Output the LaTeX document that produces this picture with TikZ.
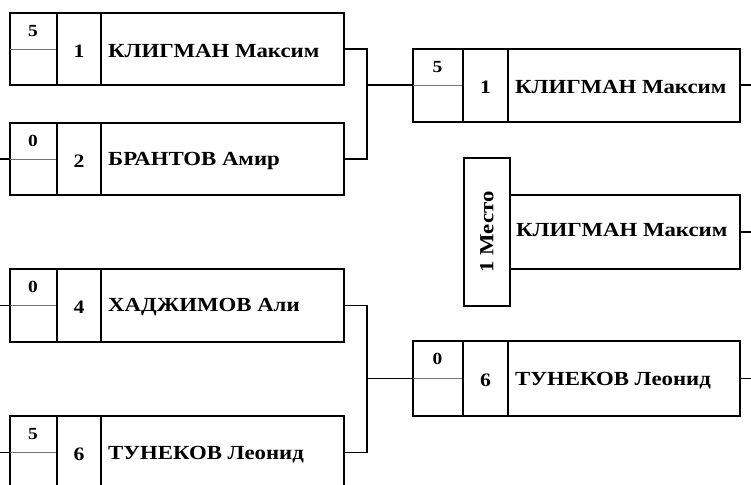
\documentclass[tikz,border=0pt]{standalone}
\usepackage{fontspec}
\setmainfont{Liberation Serif}
\newfontfamily\widefont[FakeStretch=1.14]{Liberation Serif}
\begin{document}
\begin{tikzpicture}[x=1pt,y=-1pt,
  boxst/.style={draw=black, line width=1.8pt, inner sep=0pt, rectangle},
  cell/.style={draw=black, line width=1.8pt},
  divider/.style={draw=black!55, line width=0.7pt},
  link/.style={draw=black, line width=1.8pt},
  nametext/.style={font=\widefont\fontsize{20}{22}\selectfont\bfseries, anchor=west, inner sep=0pt},
  numtext/.style={font=\widefont\fontsize{17}{19}\selectfont\bfseries, inner sep=0pt},
  seedtext/.style={font=\widefont\fontsize{19}{21}\selectfont\bfseries, inner sep=0pt}]
\useasboundingbox (0,0) rectangle (751,484);
\clip (0,0) rectangle (751,484);
\coordinate (origin) at (0,0);
\coordinate (rightedge) at (751,0);
\coordinate (jx) at (367,0);
% #1 node name, #2 left x, #3 top y, #4 width, #5 height, #6 score col width, #7 seed col width, #8 score, #9 seed
\newcommand\entrybox[9]{%
  \node[boxst, minimum width=#4pt, minimum height=#5pt, anchor=north west] (#1) at (#2,#3) {};
  \draw[cell] ([xshift=#6pt]#1.north west) -- ([xshift=#6pt]#1.south west);
  \draw[cell] ([xshift=#6pt+#7pt]#1.north west) -- ([xshift=#6pt+#7pt]#1.south west);
  \draw[divider] ([xshift=1pt]#1.west) -- ([xshift=#6pt-1pt]#1.west);
  \node[numtext] at ([xshift=#6pt/2, yshift=-19pt]#1.north west) {#8};
  \node[seedtext] at ([xshift=#6pt+#7pt/2, yshift=-2pt]#1.west) {#9};
}
\newcommand\entryname[3]{%
  \node[nametext] at ([xshift=#2pt, yshift=-2pt]#1.west) {#3};
}
% first round
\entrybox{b1}{9}{12}{334}{72}{48}{44}{5}{1}
\entryname{b1}{99}{КЛИГМАН Максим}
\entrybox{b2}{9}{122}{334}{72}{48}{44}{0}{2}
\entryname{b2}{99}{БРАНТОВ Амир}
\entrybox{b4}{9}{268}{334}{73}{48}{44}{0}{4}
\entryname{b4}{99}{ХАДЖИМОВ Али}
\entrybox{b5}{9}{415}{334}{73}{48}{44}{5}{6}
\entryname{b5}{99}{ТУНЕКОВ Леонид}
% second round
\entrybox{b3}{412}{48}{327}{73}{51}{45}{5}{1}
\entryname{b3}{103}{КЛИГМАН Максим}
\entrybox{b6}{412}{340}{327}{75}{51}{45}{0}{6}
\entryname{b6}{103}{ТУНЕКОВ Леонид}
% champion
\node[boxst, minimum width=46pt, minimum height=148pt, anchor=north west] (place) at (463,157) {};
\node[nametext, anchor=center, rotate=90] at (place.center) {1 Место};
\node[boxst, minimum width=230pt, minimum height=74pt, anchor=north west] (champ) at (509,194) {};
\node[nametext] at ([xshift=7pt, yshift=2pt]champ.west) {КЛИГМАН Максим};
% connectors
\coordinate (j1) at (b3.west -| jx);
\coordinate (j2) at (b6.west -| jx);
\draw[link] (b1.east) -| (j1) |- (b2.east);
\draw[link] (j1) -- (b3.west);
\draw[link] (b4.east) -| (j2) |- (b5.east);
\draw[link] (j2) -- (b6.west);
% free ends
\draw[link] (b2.west) -- (b2.west -| origin);
\draw[link] (b4.west) -- (b4.west -| origin);
\draw[link] (b5.west) -- (b5.west -| origin);
\draw[link] (b3.east) -- (b3.east -| rightedge);
\draw[link] (champ.east) -- (champ.east -| rightedge);
\draw[link] (b6.east) -- (b6.east -| rightedge);
\end{tikzpicture}
\end{document}
